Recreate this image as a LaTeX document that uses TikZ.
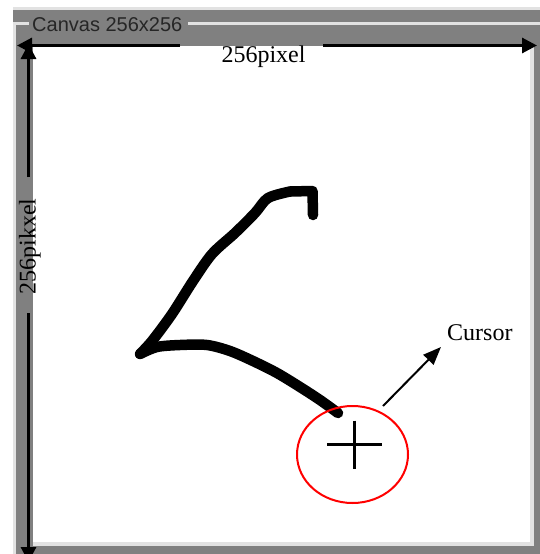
\documentclass[tikz,border=0pt]{standalone}
\usepackage{fontspec}
\setmainfont{Liberation Serif}
\newfontfamily\guifont{Liberation Sans}
\usetikzlibrary{arrows.meta, shapes.geometric}
\definecolor{PanelGray}{RGB}{128,128,128}
\definecolor{EdgeLight}{RGB}{226,226,226}
\definecolor{CursorRed}{RGB}{255,0,0}

\begin{document}
\begin{tikzpicture}[x=1pt, y=-1pt,
    dimline/.style={line width=3pt, -{Triangle[length=15pt, width=15pt]}},
    ink/.style={line width=10.5pt, line cap=round, line join=round},
    dimtext/.style={font=\fontsize{24}{28}\selectfont, inner sep=0pt}]
    \useasboundingbox (0,0) rectangle (540,554);

    % Window panel
    \fill[white] (0,0) rectangle (540,554);
    \fill[EdgeLight] (13,7) rectangle (540,10);
    \fill[PanelGray] (13,10) rectangle (540,554);

    % Group box frame and title
    \node[font=\guifont\fontsize{20}{24}\selectfont, text=black!85, anchor=base west, inner sep=0pt] (title) at (32,31) {Canvas 256x256};
    \draw[EdgeLight, line width=2.5pt] (14.5,554) -- (14.5,23.5) -- (29,23.5);
    \draw[EdgeLight, line width=2.5pt] (188,23.5) -- (540,23.5);

    % Drawing area
    \fill[white] (33,46) rectangle (530,542);
    \fill[EdgeLight] (530,45) rectangle (534,546);
    \fill[EdgeLight] (33,542) rectangle (534,546);

    % Width arrow
    \coordinate (hl) at (17,45.5);
    \coordinate (hr) at (537,45.5);
    \coordinate (hgapl) at (180,45.5);
    \coordinate (hgapr) at (323,45.5);
    \draw[dimline] (hgapl) -- (hl);
    \draw[dimline] (hgapr) -- (hr);
    \node[dimtext, anchor=base] (wtext) at (263.5,62) {256pixel};

    % Height arrow
    \coordinate (vt) at (28.5,44);
    \coordinate (vb) at (28.5,562);
    \coordinate (vgapt) at (28.5,177);
    \coordinate (vgapb) at (28.5,313);
    \draw[dimline] (vgapt) -- (vt);
    \draw[dimline] (vgapb) -- (vb);
    \node[dimtext, rotate=90, anchor=base] (htext) at (35.5,246.5) {256pikxel};

    % Freehand stroke
    \draw[ink] (313,215) -- (312.5,191) -- (290,191.5);
    \draw[ink] plot[smooth, tension=0.5] coordinates {
      (290,191.5) (268,198) (255,213) (235,233) (212,254) (193,281)
      (172,314) (152,341) (140,354)};
    \draw[ink] plot[smooth, tension=0.5] coordinates {
      (140,354) (157,347) (180,345) (207,345) (230,351) (253,361) (277,373)
      (300,387) (320,400) (338,413)};

    % Cursor and its marker
    \node[ellipse, draw=CursorRed, line width=2pt, minimum width=111pt, minimum height=97pt, inner sep=0pt] (ring) at (352.5,454.5) {};
    \coordinate (hot) at (354.5,444.5);
    \draw[line width=3pt] ([xshift=-27.5pt]hot) -- ([xshift=27.5pt]hot);
    \draw[line width=3pt] ([yshift=24pt]hot) -- ([yshift=-24pt]hot);

    \node[dimtext, anchor=base west] (cursor) at (447,340) {Cursor};
    \coordinate (tail) at (383,406);
    \coordinate (tip) at (441,347);
    \draw[line width=2pt, -{Triangle[length=18pt, width=14pt]}] (tail) -- (tip);
\end{tikzpicture}
\end{document}
